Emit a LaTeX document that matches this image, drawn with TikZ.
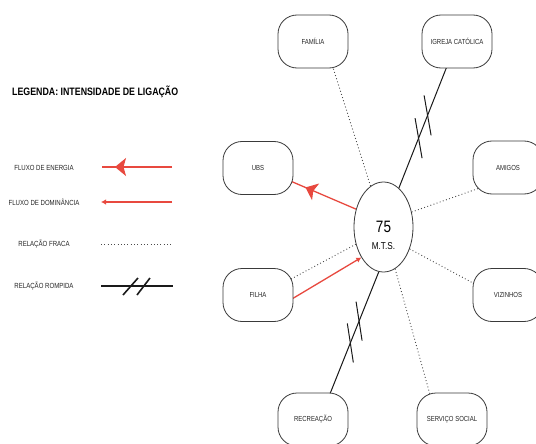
\documentclass[tikz,border=0pt]{standalone}
\usepackage{fontspec}
\setmainfont{Liberation Sans}[FakeStretch=0.82]
\usetikzlibrary{arrows.meta,calc,decorations.markings,shapes.geometric}

\definecolor{flowred}{HTML}{E8493F}
\definecolor{boxgray}{HTML}{3A3A3A}
\definecolor{labelgray}{HTML}{262626}
\definecolor{dotgray}{HTML}{4A4A4A}
\definecolor{linkblack}{HTML}{1A1A1A}

\pgfdeclarelayer{paper}
\pgfdeclarelayer{links}
\pgfsetlayers{paper,links,main}

\tikzset{
  actor/.style={draw=boxgray, line width=0.8pt, fill=white, rounded corners=19pt,
    minimum width=70pt, minimum height=53pt, inner sep=0pt,
    font=\fontsize{7.3}{8}\selectfont, text=labelgray},
  person/.style={ellipse, draw=boxgray, line width=0.8pt, fill=white,
    minimum width=59pt, minimum height=90pt, inner sep=0pt},
  legendtext/.style={font=\fontsize{7.4}{9}\selectfont, text=labelgray, inner sep=0pt},
  weak/.style={draw=dotgray, line width=0.9pt, dash pattern=on 0.9pt off 2.4pt},
  broken/.style={draw=linkblack, line width=1pt},
  brokenthick/.style={draw=linkblack, line width=1.6pt},
  energy/.style={draw=flowred, line width=1.3pt},
  dominance/.style={draw=flowred, line width=1.3pt, -{Latex[length=5pt,width=5.5pt]}},
  energyhead/.style={postaction={decorate}, decoration={markings,
    mark=at position #1 with {\arrow[flowred]{Stealth[length=11pt,width=18pt,inset=2.5pt]}}}}
}

\begin{document}
\begin{tikzpicture}[x=1pt,y=-1pt]
\useasboundingbox (0,0) rectangle (536,444);
\begin{pgfonlayer}{paper}
  \fill[white] (0,0) rectangle (536,444);
\end{pgfonlayer}

% legend
\node[anchor=west, inner sep=0pt, font=\bfseries\fontsize{10.75}{12}\selectfont] (title) at (12,92)
  {LEGENDA: INTENSIDADE DE LIGAÇÃO};

\node[legendtext] (lgE) at (44,168) {FLUXO DE ENERGIA};
\node[legendtext] (lgD) at (44,202) {FLUXO DE DOMINÂNCIA};
\node[legendtext] (lgW) at (44,244) {RELAÇÃO FRACA};
\node[legendtext] (lgB) at (44,286) {RELAÇÃO ROMPIDA};

\coordinate (e1) at (172,167);  \coordinate (e2) at (102,167);
\coordinate (d1) at (172,202);  \coordinate (d2) at (101,202);
\coordinate (w1) at (101,244);  \coordinate (w2) at (173,244);
\coordinate (b1) at (101,286);  \coordinate (b2) at (173,286);

\draw[energy, energyhead=57pt] (e1) -- (e2);
\draw[dominance] (d1) -- (d2);
\draw[weak] (w1) -- (w2);
\draw[brokenthick] (b1) -- (b2);
\draw[brokenthick] (123,295) -- (138,278);
\draw[brokenthick] (137,295) -- (150,278);

% network
\node[actor] (fam) at (313,41.5) {FAMÍLIA};
\node[actor] (igr) at (457,41.5) {IGREJA CATÓLICA};
\node[actor] (ubs) at (258,168) {UBS};
\node[actor] (ami) at (508,167.5) {AMIGOS};
\node[actor] (fil) at (258,295) {FILHA};
\node[actor] (viz) at (508,295) {VIZINHOS};
\node[actor] (rec) at (313,419.5) {RECREAÇÃO};
\node[actor] (ser) at (452,419.5) {SERVIÇO SOCIAL};

\node[person] (m) at (383.5,227) {};
\node[inner sep=0pt, font=\fontsize{16.5}{18}\selectfont] (num) at (383.5,227) {75};
\node[inner sep=0pt, font=\fontsize{10}{12}\selectfont] (mts) at (383.5,246.5) {M.T.S.};

\begin{pgfonlayer}{links}
  % weak ties
  \draw[weak] (m) -- ($(m)!1.1!(fam.-53)$);
  \draw[weak] (m.28) -- ($(m.28)!1.1!(ami.213)$);
  \draw[weak] (m.212) -- ($(m.212)!1.1!(fil.26)$);
  \draw[weak] (m.-40) -- ($(m.-40)!1.1!(viz.161)$);
  \draw[weak] (m) -- ($(m)!1.1!(ser.130)$);

  % broken ties
  \draw[broken] (m) -- ($(m)!1.1!(igr.-112)$);
  \draw[broken] ($(igr.-112)!0.296!(m)$) ++(-3.5,-20) -- ++(7,40);
  \draw[broken] ($(igr.-112)!0.44!(m)$) ++(-3.5,-20) -- ++(7,40);

  \draw[broken] (m.-96) -- ($(m.-96)!1.1!(rec.57)$);
  \draw[broken] ($(m.-96)!0.408!(rec.57)$) ++(-3,-19.5) -- ++(6,39);
  \draw[broken] ($(m.-96)!0.589!(rec.57)$) ++(-3,-19.5) -- ++(6,39);

  % energy and dominance flows
  \draw[energy, energyhead=55pt] (m.147) -- ($(m.147)!1.1!(ubs.-22)$);
  \draw[dominance] ($(m.234)!1.1!(fil.-5)$) -- (m.234);
\end{pgfonlayer}
\end{tikzpicture}
\end{document}
